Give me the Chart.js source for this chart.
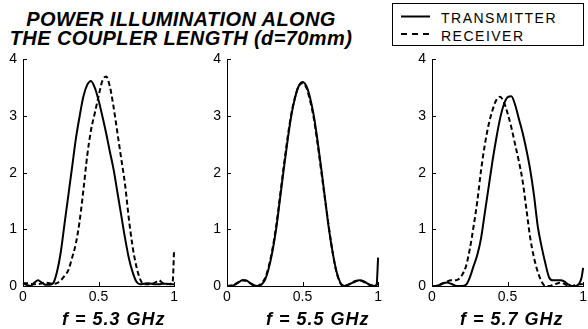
<!DOCTYPE html>
<html>
<head>
<meta charset="utf-8">
<script src="https://cdn.jsdelivr.net/npm/chart.js@4/dist/chart.umd.min.js"></script>
<style>
  html,body{margin:0;padding:0;background:#fff;overflow:hidden;}
  body{width:588px;height:329px;position:relative;font-family:"Liberation Sans",Arial,Helvetica,sans-serif;color:#000;}
  canvas{position:absolute;}
  .title{position:absolute;left:0;top:9.5px;width:362px;text-align:center;font-size:20px;line-height:19px;font-weight:bold;font-style:italic;letter-spacing:0.4px;white-space:nowrap;}
  .sub{position:absolute;top:310px;font-size:18px;line-height:18px;font-weight:bold;font-style:italic;letter-spacing:1px;white-space:nowrap;}
  .legend{position:absolute;left:392px;top:3px;width:190px;height:41px;border:1px solid #000;}
  .lt{position:absolute;left:441px;font-size:14px;line-height:14px;letter-spacing:1.5px;white-space:nowrap;}
  svg{position:absolute;left:0;top:0;}
</style>
</head>
<body>
<div class="title">POWER ILLUMINATION ALONG<br>THE COUPLER LENGTH (d=70mm)</div>
<div class="legend"></div>
<svg width="588" height="60">
  <line x1="401" y1="16.5" x2="430" y2="16.5" stroke="#000" stroke-width="2"/>
  <line x1="401" y1="34" x2="430" y2="34" stroke="#000" stroke-width="2" stroke-dasharray="6,5"/>
</svg>
<div class="lt" style="top:11px">TRANSMITTER</div>
<div class="lt" style="top:29px">RECEIVER</div>

<canvas id="c1" width="181" height="284" style="left:0px;top:45px"></canvas>
<canvas id="c2" width="181" height="284" style="left:204px;top:45px"></canvas>
<canvas id="c3" width="181" height="284" style="left:409px;top:45px"></canvas>
<div class="sub" id="s1" style="left:62px"></div>
<div class="sub" id="s2" style="left:266px"></div>
<div class="sub" id="s3" style="left:460px"></div>

<script>
// normalized position along the coupler length
const xs = [0,0.025,0.05,0.075,0.1,0.125,0.15,0.175,0.2,0.225,0.25,0.275,0.3,0.325,0.35,0.375,0.4,0.425,0.45,0.475,0.5,0.525,0.55,0.575,0.6,0.625,0.65,0.675,0.7,0.725,0.75,0.775,0.8,0.825,0.85,0.875,0.9,0.925,0.95,0.975,0.99,1];

const panelLabels = ["f = 5.3 GHz", "f = 5.5 GHz", "f = 5.7 GHz"];
const seriesNames = ["TRANSMITTER", "RECEIVER"];
const yTicks = [0,1,2,3,4];
const xTicks = [0,0.5,1];
const xTickLabels = ["0","0.5","1"];

// f = 5.3 GHz
const t53 = [0.05,0.02,0.0,0.06,0.1,0.06,0.02,0.02,0.05,0.25,0.6,1.1,1.6,2.1,2.6,3.0,3.35,3.55,3.62,3.5,3.28,3.0,2.7,2.37,2.05,1.65,1.25,0.85,0.5,0.25,0.08,0.03,0.04,0.05,0.04,0.03,0.03,0.04,0.04,0.03,0.03,0.03];
const r53 = [0.05,0.05,0.04,0.03,0.03,0.05,0.06,0.05,0.04,0.05,0.1,0.18,0.28,0.5,0.75,1.15,1.7,2.3,2.75,3.05,3.35,3.62,3.7,3.52,3.15,2.7,2.25,1.8,1.2,0.7,0.35,0.12,0.03,0.03,0.04,0.06,0.1,0.05,0.03,0.04,0.05,0.65];
// f = 5.5 GHz
const t55 = [0.0,0.0,0.02,0.06,0.1,0.1,0.06,0.02,0.0,0.02,0.1,0.3,0.6,1.0,1.52,2.05,2.55,3.0,3.32,3.53,3.6,3.53,3.32,3.0,2.55,2.05,1.52,1.0,0.58,0.25,0.06,0.0,0.02,0.05,0.08,0.1,0.09,0.05,0.02,0.0,0.02,0.5];
const r55 = [0.0,0.01,0.03,0.07,0.1,0.09,0.05,0.01,0.0,0.04,0.13,0.33,0.64,1.05,1.57,2.1,2.6,3.03,3.33,3.53,3.58,3.5,3.27,2.95,2.5,2.0,1.5,1.02,0.58,0.24,0.05,0.0,0.02,0.06,0.09,0.1,0.08,0.04,0.01,0.0,0.02,0.06];
// f = 5.7 GHz
const t57 = [0.0,0.0,0.02,0.05,0.06,0.04,0.01,0.0,0.0,0.02,0.15,0.35,0.55,0.85,1.3,1.75,2.2,2.6,2.95,3.2,3.33,3.35,3.2,2.95,2.7,2.4,2.05,1.6,1.05,0.7,0.4,0.15,0.1,0.1,0.1,0.08,0.03,0.0,0.0,0.05,0.15,0.32];
const r57 = [0.0,0.0,0.02,0.05,0.08,0.1,0.1,0.12,0.2,0.35,0.65,1.05,1.5,2.05,2.5,2.85,3.1,3.28,3.34,3.25,3.05,2.8,2.5,2.2,1.85,1.35,0.85,0.5,0.25,0.08,0.0,0.0,0.02,0.04,0.06,0.04,0.0,0.0,0.02,0.03,0.03,0.05];

const FONT = '"Liberation Sans", Arial, Helvetica, sans-serif';

const innerTicks = {
  id: 'innerTicks',
  afterDraw(chart) {
    const {ctx, scales: {x, y}, chartArea: a} = chart;
    ctx.save();
    ctx.strokeStyle = '#000';
    ctx.lineWidth = 1;
    ctx.beginPath();
    x.ticks.forEach(t => {
      const px = Math.round(x.getPixelForValue(t.value)) + 0.5;
      ctx.moveTo(px, a.bottom);
      ctx.lineTo(px, a.bottom - 4);
    });
    y.ticks.forEach(t => {
      const py = Math.round(y.getPixelForValue(t.value)) + 0.5;
      ctx.moveTo(a.left, py);
      ctx.lineTo(a.left + 4, py);
    });
    ctx.stroke();
    ctx.restore();
  }
};

function pts(arr) { return xs.map((x, i) => ({x: x, y: arr[i]})); }

function makePanel(id, tArr, rArr) {
  new Chart(document.getElementById(id), {
    type: 'line',
    data: {
      datasets: [
        {label: seriesNames[0], data: pts(tArr), borderColor: '#000', borderWidth: 2, pointRadius: 0, tension: 0.4, cubicInterpolationMode: 'monotone', fill: false, clip: 4},
        {label: seriesNames[1], data: pts(rArr), borderColor: '#000', borderWidth: 2, borderDash: [5, 3], pointRadius: 0, tension: 0.4, cubicInterpolationMode: 'monotone', fill: false, clip: 4}
      ]
    },
    options: {
      responsive: false,
      animation: false,
      events: [],
      layout: {padding: {top: 12, right: 2, left: 0, bottom: 0}},
      plugins: {legend: {display: false}, tooltip: {enabled: false}, title: {display: false}},
      scales: {
        x: {
          type: 'linear', min: 0, max: 1,
          afterBuildTicks: s => { s.ticks = xTicks.map(v => ({value: v})); },
          ticks: {
            color: '#000', font: {family: FONT, size: 14}, padding: 3, maxRotation: 0, autoSkip: false,
            callback: v => { const i = xTicks.indexOf(v); return i >= 0 ? xTickLabels[i] : ''; }
          },
          grid: {display: false, drawTicks: false},
          border: {display: true, color: '#000', width: 1},
          afterFit: s => { s.height = 43; }
        },
        y: {
          type: 'linear', min: 0, max: 4,
          afterBuildTicks: s => { s.ticks = yTicks.map(v => ({value: v})); },
          ticks: {color: '#000', font: {family: FONT, size: 14}, padding: 6, callback: v => String(v)},
          grid: {display: false, drawTicks: false},
          border: {display: true, color: '#000', width: 1},
          afterFit: s => { s.width = 23; }
        }
      }
    },
    plugins: [innerTicks]
  });
}

makePanel('c1', t53, r53);
makePanel('c2', t55, r55);
makePanel('c3', t57, r57);
document.getElementById('s1').textContent = panelLabels[0];
document.getElementById('s2').textContent = panelLabels[1];
document.getElementById('s3').textContent = panelLabels[2];
</script>
</body>
</html>
